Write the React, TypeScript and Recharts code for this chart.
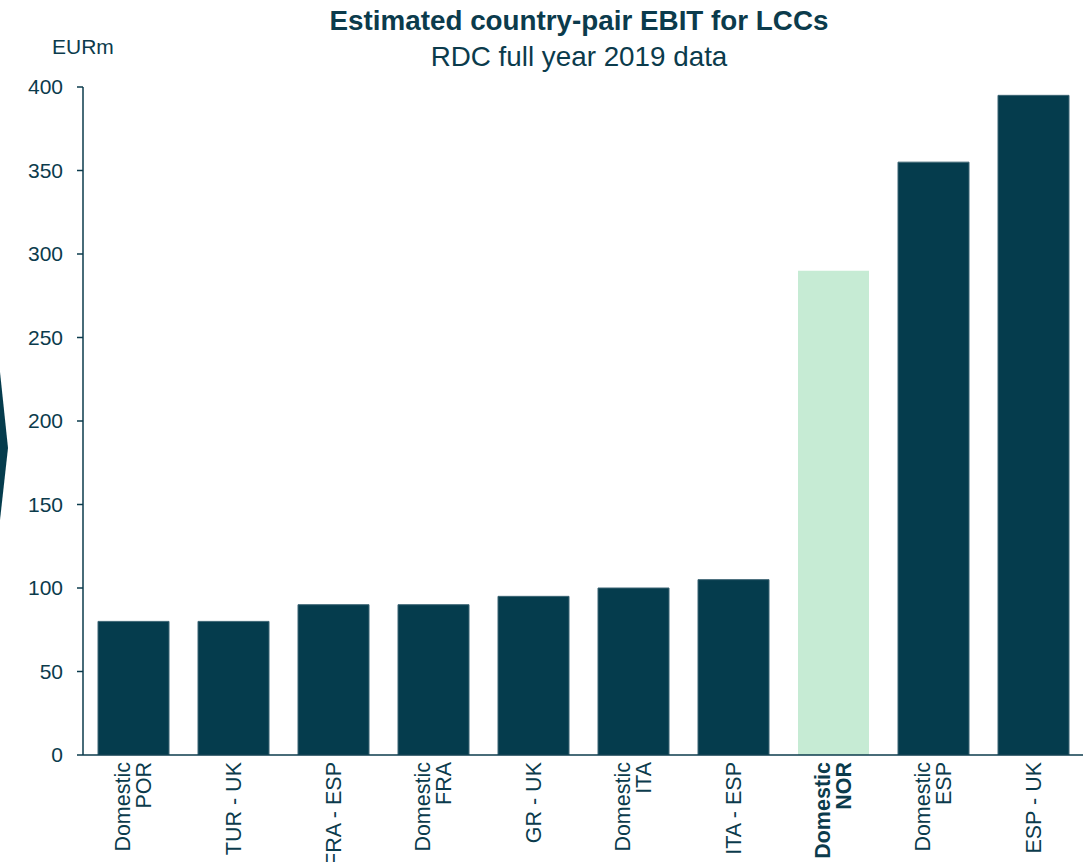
import React from "react";
import { BarChart, Bar, XAxis, YAxis, Cell } from "recharts";

const categories = [
  "Domestic\nPOR",
  "TUR - UK",
  "FRA - ESP",
  "Domestic\nFRA",
  "GR - UK",
  "Domestic\nITA",
  "ITA - ESP",
  "Domestic\nNOR",
  "Domestic\nESP",
  "ESP - UK",
];
const ebitValues = [80, 80, 90, 90, 95, 100, 105, 290, 355, 395];
const highlighted = ["Domestic\nNOR"];
const yTicks = [0, 50, 100, 150, 200, 250, 300, 350, 400];
const titleText = "Estimated country-pair EBIT for LCCs";
const subtitleText = "RDC full year 2019 data";
const unitText = "EURm";

const data = categories.map((c, i) => ({ name: c, value: ebitValues[i] }));

const FONT = "'Liberation Sans', Arial, Helvetica, sans-serif";
const TEXT = "#0B3B4C";
const DARK = "#053C4D";
const LIGHT = "#C6EBD4";

const XTick = (props: any) => {
  const { x, y, payload } = props;
  const lines = String(payload.value).split("\n");
  const bold = highlighted.includes(payload.value);
  const spacing = 21.5;
  const n = lines.length;
  return (
    <g transform={`translate(${x},${y + 7})`}>
      <text
        transform="rotate(-90)"
        textAnchor="end"
        fill={TEXT}
        fontSize={21.5}
        fontFamily={FONT}
        fontWeight={bold ? "bold" : "normal"}
      >
        {lines.map((l, i) => (
          <tspan key={i} x={0} y={(i - (n - 1) / 2) * spacing + 7.5}>
            {l}
          </tspan>
        ))}
      </text>
    </g>
  );
};

export default function App() {
  return (
    <div style={{ position: "absolute", left: 0, top: 0, width: 1089, height: 862, background: "#fff" }}>
      <BarChart
        width={1089}
        height={862}
        data={data}
        margin={{ top: 87, right: 6, bottom: 0, left: 0 }}
        barSize={71}
      >
        <XAxis
          dataKey="name"
          interval={0}
          tickLine={false}
          tickSize={0}
          tickMargin={0}
          height={107}
          axisLine={{ stroke: TEXT, strokeWidth: 1.5 }}
          tick={<XTick />}
        />
        <YAxis
          domain={[0, 400]}
          ticks={yTicks}
          width={83}
          tickSize={6}
          tickMargin={14}
          axisLine={{ stroke: TEXT, strokeWidth: 1.5 }}
          tickLine={{ stroke: TEXT, strokeWidth: 1.5 }}
          tick={{ fill: TEXT, fontSize: 21, fontFamily: FONT }}
          allowDataOverflow
        />
        <Bar dataKey="value" isAnimationActive={false}>
          {data.map((d, i) => (
            <Cell
              key={i}
              fill={highlighted.includes(d.name) ? LIGHT : DARK}
              stroke={highlighted.includes(d.name) ? "none" : "#3D6574"}
              strokeWidth={1}
            />
          ))}
        </Bar>
      </BarChart>
      <svg
        width={1089}
        height={862}
        style={{ position: "absolute", left: 0, top: 0, pointerEvents: "none" }}
      >
        <polygon points="0,372 8,448 0,520" fill={DARK} />
        <text x={579} y={30} textAnchor="middle" fontSize={27.8} fontWeight="bold" fill={TEXT} fontFamily={FONT}>
          {titleText}
        </text>
        <text x={579} y={66} textAnchor="middle" fontSize={27.8} fill={TEXT} fontFamily={FONT}>
          {subtitleText}
        </text>
        <text x={52} y={54} fontSize={21} fill={TEXT} fontFamily={FONT}>
          {unitText}
        </text>
      </svg>
    </div>
  );
}
